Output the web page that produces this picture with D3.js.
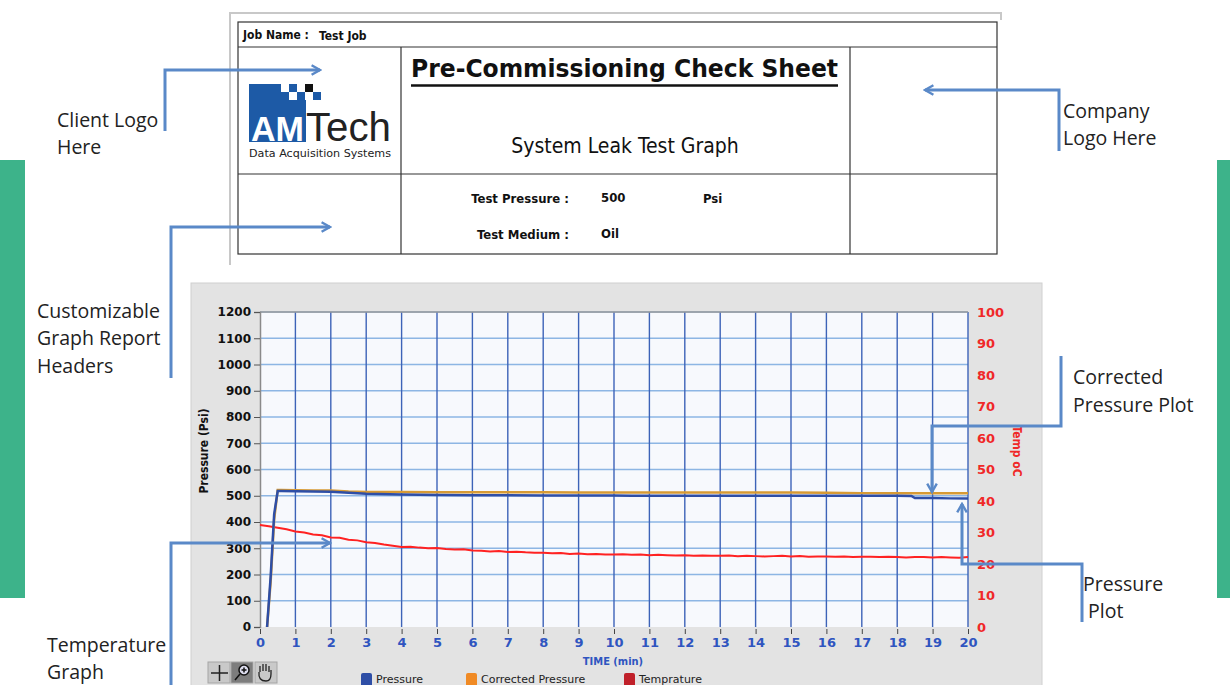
<!DOCTYPE html>
<html>
<head>
<meta charset="utf-8">
<script src="https://cdn.jsdelivr.net/npm/d3@7"></script>
<style>
  body { margin: 0; background: #fff; }
  svg { display: block; }
  .note { font-family: 'Open Sans', sans-serif; font-size: 19.5px; fill: #222; }
  .hdr { font-family: 'DejaVu Sans Condensed', 'DejaVu Sans', sans-serif; fill: #111; }
</style>
</head>
<body>
<div id="chart"></div>
<script>
// time axis ticks (min)
const timeTicks = d3.range(0, 21);
const pressureTicks = [0, 100, 200, 300, 400, 500, 600, 700, 800, 900, 1000, 1100, 1200];
const tempTicks = [0, 10, 20, 30, 40, 50, 60, 70, 80, 90, 100];

// pressure & corrected pressure (psi)
const pressureTime = [0.2, 0.3, 0.4, 0.5, 0.6, 1, 1.5, 2, 2.5, 3, 4, 5, 6, 7, 8, 9, 10, 10.5, 11, 12, 13, 14, 15, 16, 17, 18, 18.4, 18.5, 19, 19.5, 20];
const pressure = [0, 190, 430, 518, 518, 517, 516, 515, 511, 508, 505, 503, 502, 502, 501, 501, 501, 500, 500, 500, 500, 500, 500, 500, 500, 500, 499, 491, 491, 490, 490];
const corrected = [0, 170, 410, 522, 522, 521, 520, 520, 516, 514, 514, 513, 513, 513, 513, 512, 512, 512, 512, 512, 512, 512, 512, 511, 510, 510, 510, 510, 510, 510, 510];

// temperature (deg C)
const tempTime = d3.range(0, 20.01, 0.25);
const temperature = [32.4, 32.0, 31.5, 31.0, 30.3, 30.0, 29.4, 29.1, 28.4, 28.3, 27.7, 27.5, 26.9, 26.7, 26.2, 25.8,
  25.4, 25.5, 25.2, 25.0, 25.1, 24.8, 24.6, 24.7, 24.3, 24.2, 24.0, 24.1, 23.8, 23.9, 23.7, 23.6,
  23.6, 23.4, 23.5, 23.2, 23.3, 23.1, 23.2, 23.0, 23.0, 23.1, 22.9, 23.0, 22.8, 22.9, 22.8, 22.7,
  22.8, 22.6, 22.7, 22.6, 22.6, 22.7, 22.5, 22.6, 22.5, 22.4, 22.5, 22.6, 22.4, 22.5, 22.3, 22.4,
  22.4, 22.3, 22.4, 22.2, 22.3, 22.3, 22.2, 22.3, 22.2, 22.1, 22.2, 22.2, 22.1, 22.2, 22.1, 22.0, 22.2];

const legendNames = ['Pressure', 'Corrected Pressure', 'Temprature'];
const legendColors = ['#2e4ea6', '#f08a24', '#c0202a'];

const width = 1230;
const height = 685;
const arrowColor = '#5a89c8';

const svg = d3.select('#chart')
    .append('svg')
    .attr('width', width)
    .attr('height', height);

// green side bars
svg.append('rect').attr('x', 0).attr('y', 160).attr('width', 25).attr('height', 438).attr('fill', '#3db38a');
svg.append('rect').attr('x', 1217).attr('y', 160).attr('width', 13).attr('height', 438).attr('fill', '#3db38a');

// ---------- report header ----------
const hdr = svg.append('g');
hdr.append('path')
    .attr('d', 'M230,265 L230,13 L1001,13 L1001,20')
    .attr('fill', 'none').attr('stroke', '#c8c8c8').attr('stroke-width', 2);
hdr.append('rect').attr('x', 238).attr('y', 22).attr('width', 759).attr('height', 232)
    .attr('fill', '#fff').attr('stroke', '#333').attr('stroke-width', 1.2);
[[238, 47, 997, 47], [238, 174, 997, 174], [401, 47, 401, 254], [850, 47, 850, 254]].forEach(function(l) {
  hdr.append('line').attr('x1', l[0]).attr('y1', l[1]).attr('x2', l[2]).attr('y2', l[3])
      .attr('stroke', '#333').attr('stroke-width', 1.2);
});
hdr.append('text').attr('class', 'hdr').attr('x', 243).attr('y', 39)
    .style('font-size', '12px').style('font-weight', 'bold').text('Job Name :');
hdr.append('text').attr('class', 'hdr').attr('x', 319).attr('y', 40)
    .style('font-size', '12px').style('font-weight', 'bold').text('Test Job');

hdr.append('text').attr('class', 'hdr').attr('x', 411).attr('y', 77)
    .attr('textLength', 427).attr('lengthAdjust', 'spacingAndGlyphs')
    .style('font-size', '25px').style('font-weight', 'bold')
    .text('Pre-Commissioning  Check  Sheet');
hdr.append('line').attr('x1', 411).attr('y1', 85.5).attr('x2', 838).attr('y2', 85.5)
    .attr('stroke', '#111').attr('stroke-width', 2.5);
hdr.append('text').attr('class', 'hdr').attr('x', 625).attr('y', 153)
    .attr('text-anchor', 'middle').style('font-size', '21px').text('System Leak Test Graph');

hdr.append('text').attr('class', 'hdr').attr('x', 569).attr('y', 203).attr('text-anchor', 'end')
    .style('font-size', '13px').style('font-weight', 'bold').text('Test Pressure :');
hdr.append('text').attr('class', 'hdr').attr('x', 601).attr('y', 202)
    .style('font-size', '13px').style('font-weight', 'bold').text('500');
hdr.append('text').attr('class', 'hdr').attr('x', 703).attr('y', 203)
    .style('font-size', '13px').style('font-weight', 'bold').text('Psi');
hdr.append('text').attr('class', 'hdr').attr('x', 569).attr('y', 239).attr('text-anchor', 'end')
    .style('font-size', '13px').style('font-weight', 'bold').text('Test Medium :');
hdr.append('text').attr('class', 'hdr').attr('x', 601).attr('y', 238)
    .style('font-size', '13px').style('font-weight', 'bold').text('Oil');

// AMTech logo
const logo = hdr.append('g');
const logoBlue = '#1d5aa6';
logo.append('rect').attr('x', 249).attr('y', 84).attr('width', 32).attr('height', 16).attr('fill', logoBlue);
logo.append('rect').attr('x', 249).attr('y', 100).attr('width', 57).attr('height', 42).attr('fill', logoBlue);
[[281, 92, logoBlue], [289, 84, logoBlue], [297, 92, logoBlue], [305, 84, '#111'], [313, 92, logoBlue]].forEach(function(s) {
  logo.append('rect').attr('x', s[0]).attr('y', s[1]).attr('width', 8).attr('height', 8).attr('fill', s[2]);
});
logo.append('text').attr('x', 251).attr('y', 141).attr('textLength', 53).attr('lengthAdjust', 'spacingAndGlyphs')
    .style('font-family', 'Liberation Sans, sans-serif').style('font-size', '35px').style('font-weight', 'bold')
    .attr('fill', '#fff').text('AM');
logo.append('text').attr('x', 306).attr('y', 141).attr('textLength', 85).attr('lengthAdjust', 'spacingAndGlyphs')
    .style('font-family', 'Liberation Sans, sans-serif').style('font-size', '41px')
    .attr('fill', '#222').text('Tech');
logo.append('text').attr('x', 249).attr('y', 157).attr('textLength', 142).attr('lengthAdjust', 'spacingAndGlyphs')
    .style('font-family', 'DejaVu Sans Condensed, sans-serif').style('font-size', '11px')
    .attr('fill', '#222').text('Data Acquisition Systems');

// ---------- graph panel ----------
const margin = {left: 260, right: 968, top: 312, bottom: 627};
svg.append('rect').attr('x', 191).attr('y', 283).attr('width', 851).attr('height', 410)
    .attr('fill', '#e3e3e3').attr('stroke', '#d0d0d0');

const x = d3.scaleLinear().domain([0, 20]).range([margin.left, margin.right]);
const y = d3.scaleLinear().domain([0, 1200]).range([margin.bottom, margin.top]);
const yT = d3.scaleLinear().domain([0, 100]).range([margin.bottom, margin.top]);

svg.append('rect').attr('x', margin.left).attr('y', margin.top)
    .attr('width', margin.right - margin.left).attr('height', margin.bottom - margin.top)
    .attr('fill', '#f7f9fd');

const grid = svg.append('g');
grid.selectAll('.hgrid')
    .data(pressureTicks.slice(1))
    .enter()
    .append('line')
    .attr('x1', margin.left).attr('x2', margin.right)
    .attr('y1', function(d) {
      return y(d);
    })
    .attr('y2', function(d) {
      return y(d);
    })
    .attr('stroke', '#8db6e4').attr('stroke-width', 1.6);
grid.selectAll('.vgrid')
    .data(timeTicks.slice(1))
    .enter()
    .append('line')
    .attr('y1', margin.top).attr('y2', margin.bottom)
    .attr('x1', function(d) {
      return x(d);
    })
    .attr('x2', function(d) {
      return x(d);
    })
    .attr('stroke', '#3d63b8').attr('stroke-width', 1.4);
svg.append('line').attr('x1', margin.left).attr('x2', margin.right).attr('y1', margin.top).attr('y2', margin.top)
    .attr('stroke', '#9a9a9a').attr('stroke-width', 1.5);

// axes
const leftAxis = svg.append('g')
    .attr('transform', 'translate(' + margin.left + ',0)')
    .call(d3.axisLeft(y).tickValues(pressureTicks).tickFormat(d3.format('d')).tickSize(6).tickPadding(3));
leftAxis.select('.domain').attr('stroke', '#8a8a8a').attr('stroke-width', 1.5);
leftAxis.selectAll('.tick line').attr('stroke', '#555');
leftAxis.selectAll('text')
    .style('font-family', 'DejaVu Sans, sans-serif').style('font-size', '12px')
    .style('font-weight', 'bold').attr('fill', '#111');

const bottomAxis = svg.append('g')
    .attr('transform', 'translate(0,' + margin.bottom + ')')
    .call(d3.axisBottom(x).tickValues(timeTicks).tickSize(7).tickPadding(4));
bottomAxis.select('.domain').remove();
bottomAxis.selectAll('.tick line').attr('stroke', '#444').attr('y1', 2);
bottomAxis.selectAll('text')
    .style('font-family', 'DejaVu Sans, sans-serif').style('font-size', '13px')
    .style('font-weight', 'bold').attr('fill', '#2f55c0');

const rightAxis = svg.append('g')
    .attr('transform', 'translate(' + margin.right + ',0)')
    .call(d3.axisRight(yT).tickValues(tempTicks).tickSize(0).tickPadding(9));
rightAxis.select('.domain').remove();
rightAxis.selectAll('text')
    .style('font-family', 'DejaVu Sans, sans-serif').style('font-size', '13px')
    .style('font-weight', 'bold').attr('fill', '#f02828');

svg.append('text')
    .attr('transform', 'translate(208,451) rotate(-90)')
    .attr('text-anchor', 'middle')
    .style('font-family', 'DejaVu Sans Condensed, sans-serif').style('font-size', '12px').style('font-weight', 'bold')
    .attr('fill', '#111').text('Pressure (Psi)');
svg.append('text')
    .attr('transform', 'translate(1013,451) rotate(90)')
    .attr('text-anchor', 'middle')
    .style('font-family', 'DejaVu Sans Condensed, sans-serif').style('font-size', '12px').style('font-weight', 'bold')
    .attr('fill', '#f02828').text('Temp oC');
svg.append('text')
    .attr('x', 613).attr('y', 665).attr('text-anchor', 'middle')
    .style('font-family', 'DejaVu Sans Condensed, sans-serif').style('font-size', '11px').style('font-weight', 'bold')
    .attr('fill', '#2f55c0').text('TIME (min)');

// series
const plot = svg.append('g');
const lineP = d3.line()
    .x(function(d) {
      return x(d[0]);
    })
    .y(function(d) {
      return y(d[1]);
    });
const lineT = d3.line()
    .x(function(d) {
      return x(d[0]);
    })
    .y(function(d) {
      return yT(d[1]);
    });
plot.append('path')
    .attr('d', lineT(d3.zip(tempTime, temperature)))
    .attr('fill', 'none').attr('stroke', '#ff2222').attr('stroke-width', 2);
plot.append('path')
    .attr('d', lineP(d3.zip(pressureTime, corrected)))
    .attr('fill', 'none').attr('stroke', '#d79a34').attr('stroke-width', 2.5);
plot.append('path')
    .attr('d', lineP(d3.zip(pressureTime, pressure)))
    .attr('fill', 'none').attr('stroke', '#2e4ea6').attr('stroke-width', 2.5);

// legend
const legendX = [361, 466, 624];
const legend = svg.selectAll('.legend')
    .data(legendNames)
    .enter()
    .append('g')
    .attr('class', 'legend')
    .attr('transform', function(d, i) {
      return 'translate(' + legendX[i] + ',673)';
    });
legend.append('rect')
    .attr('width', 11).attr('height', 14).attr('rx', 2)
    .attr('fill', function(d, i) {
      return legendColors[i];
    });
legend.append('text')
    .attr('x', 15).attr('y', 10)
    .style('font-family', 'DejaVu Sans, sans-serif').style('font-size', '11px')
    .attr('fill', '#222')
    .text(function(d) {
      return d;
    });

// palette tool buttons
const tools = svg.append('g');
[208, 231, 255].forEach(function(bx, i) {
  tools.append('rect').attr('x', bx).attr('y', 662).attr('width', 22).attr('height', 21)
      .attr('fill', i === 1 ? '#7d7d7d' : '#c9c9c9').attr('stroke', '#a5a5a5');
});
tools.append('path').attr('d', 'M211,673 L228,673 M219.5,665 L219.5,681')
    .attr('stroke', '#222').attr('stroke-width', 1.5);
tools.append('circle').attr('cx', 244).attr('cy', 670).attr('r', 5).attr('fill', '#dde').attr('stroke', '#111').attr('stroke-width', 1.5);
tools.append('path').attr('d', 'M240,674 L235,680 M241.5,670 L246.5,670 M244,667.5 L244,672.5')
    .attr('stroke', '#111').attr('stroke-width', 1.5);
tools.append('path').attr('d', 'M260,672 L260,666 M263,671 L263,664 M266,671 L266,664 M269,672 L269,666 M259,672 Q258,681 266,681 Q271,681 271,674 L271,670')
    .attr('fill', 'none').attr('stroke', '#222').attr('stroke-width', 1.3);

// ---------- annotations ----------
const defs = svg.append('defs');
defs.append('marker')
    .attr('id', 'arrow')
    .attr('viewBox', '0 0 10 10')
    .attr('refX', 8).attr('refY', 5)
    .attr('markerWidth', 4).attr('markerHeight', 4)
    .attr('orient', 'auto')
    .append('path')
    .attr('d', 'M1,1 L8,5 L1,9')
    .attr('fill', 'none').attr('stroke', arrowColor).attr('stroke-width', 2);

const connectors = [
  'M165,131 L165,70 L320,70',
  'M1059,151 L1059,90 L925,90',
  'M171,378 L171,227 L330,227',
  'M171,690 L171,543 L330,543',
  'M1061,356 L1061,426 L932,426 L932,492',
  'M1082,622 L1082,564 L962,564 L962,504'
];
svg.selectAll('.connector')
    .data(connectors)
    .enter()
    .append('path')
    .attr('d', function(d) {
      return d;
    })
    .attr('fill', 'none')
    .attr('stroke', arrowColor)
    .attr('stroke-width', 3)
    .attr('marker-end', 'url(#arrow)');

const notes = [
  [57, 127, 'Client Logo'], [57, 154, 'Here'],
  [1063, 118, 'Company'], [1063, 145, 'Logo Here'],
  [37, 318, 'Customizable'], [37, 345, 'Graph Report'], [37, 373, 'Headers'],
  [1073, 384, 'Corrected'], [1073, 412, 'Pressure Plot'],
  [1083, 591, 'Pressure'], [1088, 618, 'Plot'],
  [47, 652, 'Temperature'], [47, 679, 'Graph']
];
svg.selectAll('.note')
    .data(notes)
    .enter()
    .append('text')
    .attr('class', 'note')
    .attr('x', function(d) {
      return d[0];
    })
    .attr('y', function(d) {
      return d[1];
    })
    .text(function(d) {
      return d[2];
    });
</script>
</body>
</html>
